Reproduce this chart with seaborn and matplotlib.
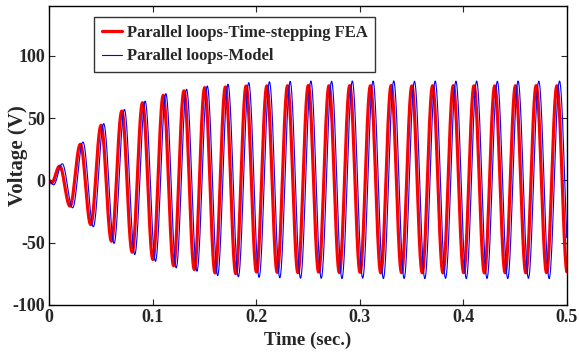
import numpy as np
import pandas as pd
import matplotlib
matplotlib.use("Agg")
import matplotlib.pyplot as plt
import seaborn as sns

# ---- data (extrema of each half-cycle) ----
period = 0.02            # 50 Hz
first_peak_t = 0.0103    # time of first FEA peak (s)
model_lag = 0.0025       # model lags FEA (s)

# start points before the first peak: (time, value)
fea_start_t = [0.0, 0.0025]
fea_start_v = [0.0, -2.0]
model_start_t = [0.0, 0.0045]
model_start_v = [0.0, -3.5]

fea_extrema = [11.5, -20.6, 29.0, -35.4, 44.2, -48.8, 55.7, -57.6, 62.4, -63.5,
               68.3, -68.4, 71.9, -71.5, 74.5, -74.2, 75.0, -74.8, 75.8, -73.5,
               75.9, -73.8, 76.0, -74.0, 76.2, -73.6, 76.0, -74.0, 76.1, -73.8,
               76.0, -74.2, 76.2, -74.0, 75.9, -74.1, 76.0, -74.2, 76.1, -74.0,
               76.0, -74.2, 75.9, -74.1, 76.0, -74.2, 76.1, -74.0, 76.0, -74.2]
model_extrema = [13.4, -22.0, 30.8, -37.2, 45.6, -50.6, 57.0, -59.5, 63.7, -64.9,
                 69.7, -70.2, 73.2, -72.9, 75.8, -76.4, 77.2, -77.4, 78.5, -77.8,
                 79.2, -78.2, 79.5, -78.5, 79.8, -78.6, 79.6, -78.8, 79.8, -78.5,
                 79.7, -78.8, 79.9, -78.7, 79.6, -78.8, 79.8, -78.6, 79.7, -78.8,
                 79.8, -78.7, 79.6, -78.8, 79.8, -78.6, 79.7, -78.8, 79.8, -78.7]

x_ticks = [0, 0.1, 0.2, 0.3, 0.4, 0.5]
x_ticklabels = ["0", "0.1", "0.2", "0.3", "0.4", "0.5"]
y_ticks = [-100, -50, 0, 50, 100]
y_ticklabels = ["-100", "-50", "0", "50", "100"]
labels = ["Parallel loops-Time-stepping FEA", "Parallel loops-Model"]


def waveform(start_t, start_v, t0, extrema, t_end=0.5, n=40):
    """Half-cosine smoothing between successive read extrema."""
    kt = list(start_t) + [t0 + i * period / 2 for i in range(len(extrema))]
    kv = list(start_v) + list(extrema)
    ts, vs = [], []
    for i in range(len(kt) - 1):
        s = np.linspace(0, 1, n, endpoint=False)
        ts.append(kt[i] + (kt[i + 1] - kt[i]) * s)
        vs.append(kv[i] + (kv[i + 1] - kv[i]) * (1 - np.cos(np.pi * s)) / 2)
    t = np.concatenate(ts)
    v = np.concatenate(vs)
    m = t <= t_end
    return t[m], v[m]


t_fea, v_fea = waveform(fea_start_t, fea_start_v, first_peak_t, fea_extrema)
t_mod, v_mod = waveform(model_start_t, model_start_v, first_peak_t + model_lag, model_extrema)

df = pd.concat([
    pd.DataFrame({"Time": t_fea, "Voltage": v_fea, "Series": labels[0]}),
    pd.DataFrame({"Time": t_mod, "Voltage": v_mod, "Series": labels[1]}),
])

sns.set_style("ticks")
plt.rcParams["font.family"] = ["Liberation Serif", "DejaVu Serif"]
plt.rcParams["font.weight"] = "bold"

fig = plt.figure(figsize=(5.79, 3.56), dpi=100)
ax = fig.add_axes([0.0846, 0.1433, 0.8946, 0.8397])

sns.lineplot(data=df[df.Series == labels[0]], x="Time", y="Voltage", color="#ff0000",
             linewidth=2.3, ax=ax, label=labels[0], estimator=None, sort=False)
sns.lineplot(data=df[df.Series == labels[1]], x="Time", y="Voltage", color="#0000ff",
             linewidth=0.8, ax=ax, label=labels[1], estimator=None, sort=False)

ax.set_xlim(0, 0.5)
ax.set_ylim(-100, 140)
ax.set_xticks(x_ticks)
ax.set_xticklabels(x_ticklabels)
ax.set_yticks(y_ticks)
ax.set_yticklabels(y_ticklabels)
ax.tick_params(direction="in", top=True, right=True, length=4, width=0.8,
               labelsize=13, pad=3)
for lab in ax.get_xticklabels() + ax.get_yticklabels():
    lab.set_fontweight("bold")
for sp in ax.spines.values():
    sp.set_linewidth(1.0)
    sp.set_color("black")

ax.set_xlabel("Time (sec.)", fontsize=13.5, fontweight="bold")
ax.xaxis.set_label_coords(0.5, -0.088)
ax.set_ylabel("Voltage (V)", fontsize=15, fontweight="bold")
ax.yaxis.set_label_coords(-0.04, 0.5)

leg = ax.legend(loc="upper left", bbox_to_anchor=(0.087, 0.962), fontsize=12,
                frameon=True, fancybox=False, handlelength=1.2, handletextpad=0.3,
                borderpad=0.45, labelspacing=0.45, borderaxespad=0)
leg.get_frame().set_edgecolor("black")
leg.get_frame().set_linewidth(1.0)
for txt in leg.get_texts():
    txt.set_fontweight("bold")

fig.savefig("out.png", dpi=100)
